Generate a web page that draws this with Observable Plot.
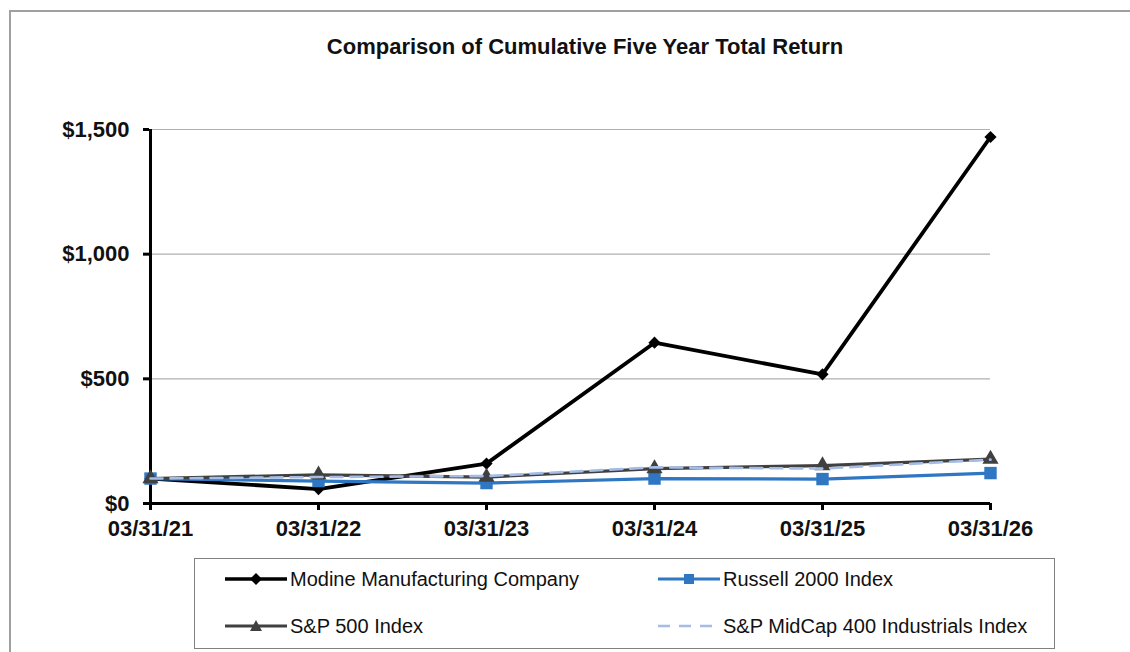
<!DOCTYPE html>
<html>
<head>
<meta charset="utf-8">
<script src="https://cdn.jsdelivr.net/npm/d3@7"></script>
<script src="https://cdn.jsdelivr.net/npm/@observablehq/plot@0.6"></script>
<style>
  html, body { margin: 0; padding: 0; background: #fff; }
  #page { position: relative; width: 1130px; height: 652px; overflow: hidden; background: #fff;
          font-family: "Liberation Sans", Arial, sans-serif; }
  #frame { position: absolute; left: 9px; top: 10px; width: 1300px; height: 800px;
           border-left: 2px solid #a0a0a0; border-top: 2px solid #a0a0a0; }
  #title { position: absolute; left: 0; top: 35px; width: 1170px; text-align: center;
           font-size: 22px; font-weight: bold; line-height: 24px; color: #111; }
  #chart { position: absolute; left: 0; top: 75px; }
  #legend { position: absolute; left: 194px; top: 558px; width: 861px; height: 91px;
            border: 1px solid #808080; box-sizing: border-box; }
  .item { position: absolute; display: flex; align-items: center; font-size: 20px; color: #111; }
  .item svg { display: block; margin-right: 3px; }
</style>
</head>
<body>
<div id="page">
  <div id="frame"></div>
  <div id="title">Comparison of Cumulative Five Year Total Return</div>
  <div id="chart"></div>
  <div id="legend"></div>
</div>
<script>
// ---- data ----
const dates = ["03/31/21", "03/31/22", "03/31/23", "03/31/24", "03/31/25", "03/31/26"];
const modine = [100, 58, 160, 645, 518, 1470];
const russell2000 = [100, 90, 82, 100, 98, 122];
const sp500 = [100, 115, 106, 140, 152, 178];
const midcap400Ind = [100, 106, 110, 145, 140, 176];
const yTicks = [0, 500, 1000, 1500];
const seriesNames = ["Modine Manufacturing Company", "Russell 2000 Index", "S&P 500 Index", "S&P MidCap 400 Industrials Index"];

const toRows = (vals) => dates.map((d, i) => ({date: d, value: vals[i]}));
const rowsModine = toRows(modine);
const rowsRussell = toRows(russell2000);
const rowsSP = toRows(sp500);
const rowsMid = toRows(midcap400Ind);

const BLACK = "#000000", BLUE = "#2f77c2", DGRAY = "#404040", LBLUE = "#a3bde6";

const chart = Plot.plot({
  width: 1130,
  height: 475,
  marginLeft: 149,
  marginRight: 140,
  marginTop: 54,
  marginBottom: 47,
  style: {fontFamily: "'Liberation Sans', Arial, sans-serif", fontSize: "22px", fontWeight: "bold", color: "#111", background: "transparent"},
  x: {type: "point", domain: dates, padding: 0},
  y: {domain: [0, 1500]},
  marks: [
    Plot.gridY([500, 1000, 1500], {stroke: "#b0b0b0", strokeOpacity: 1, strokeWidth: 1.2}),
    Plot.axisY(yTicks, {tickSize: 6, tickPadding: 14, strokeWidth: 3, stroke: "#000",
      tickFormat: d => "$" + d3.format(",")(d), label: null, fontWeight: "bold"}),
    Plot.axisX({tickSize: 7, tickPadding: 10, strokeWidth: 3, stroke: "#000", label: null, fontWeight: "bold"}),
    Plot.ruleX([dates[0]], {y1: 0, y2: 1500, stroke: "#000", strokeWidth: 3}),
    Plot.ruleY([0], {stroke: "#000", strokeWidth: 3}),
    // series
    Plot.line(rowsModine, {x: "date", y: "value", stroke: BLACK, strokeWidth: 3.8}),
    Plot.dot(rowsModine, {x: "date", y: "value", symbol: "diamond2", r: 5.5, fill: BLACK}),
    Plot.line(rowsRussell, {x: "date", y: "value", stroke: BLUE, strokeWidth: 3.2}),
    Plot.dot(rowsRussell, {x: "date", y: "value", symbol: "square", r: 7, fill: BLUE}),
    Plot.line(rowsSP, {x: "date", y: "value", stroke: DGRAY, strokeWidth: 3.2}),
    Plot.dot(rowsSP, {x: "date", y: "value", symbol: "triangle", r: 6, fill: DGRAY}),
    Plot.line(rowsMid, {x: "date", y: "value", stroke: LBLUE, strokeWidth: 2.6, strokeDasharray: "12,8"})
  ]
});
document.getElementById("chart").appendChild(chart);

// ---- legend ----
const legendSpecs = [
  {name: seriesNames[0], color: BLACK, width: 3.5, dash: null, marker: "diamond", left: 30, top: 8},
  {name: seriesNames[1], color: BLUE, width: 3, dash: null, marker: "square", left: 463, top: 8},
  {name: seriesNames[2], color: DGRAY, width: 3, dash: null, marker: "triangle", left: 30, top: 55},
  {name: seriesNames[3], color: LBLUE, width: 2.5, dash: "12,9", marker: null, left: 463, top: 55}
];
const legend = d3.select("#legend");
legendSpecs.forEach(s => {
  const item = legend.append("div").attr("class", "item").style("left", s.left + "px").style("top", s.top + "px").style("height", "24px");
  const sw = item.append("svg").attr("width", 62).attr("height", 20);
  sw.append("line").attr("x1", 0).attr("x2", 62).attr("y1", 10).attr("y2", 10)
    .attr("stroke", s.color).attr("stroke-width", s.width).attr("stroke-dasharray", s.dash);
  if (s.marker === "diamond") sw.append("path").attr("d", "M31,4L37,10L31,16L25,10Z").attr("fill", s.color);
  if (s.marker === "square") sw.append("rect").attr("x", 26).attr("y", 5).attr("width", 10).attr("height", 10).attr("fill", s.color);
  if (s.marker === "triangle") sw.append("path").attr("d", "M31,4L37,15L25,15Z").attr("fill", s.color);
  item.append("span").text(s.name);
});
</script>
</body>
</html>
